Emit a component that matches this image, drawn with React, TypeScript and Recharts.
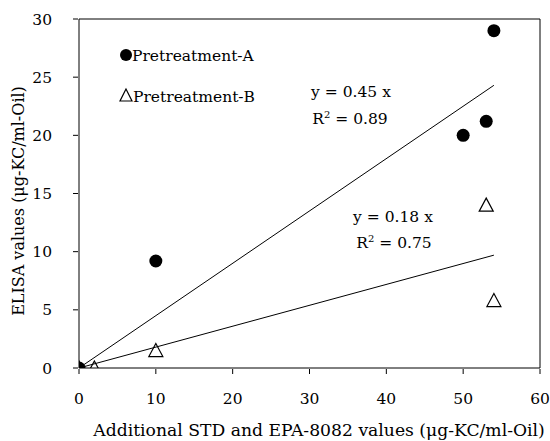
import {
  Customized,
  ReferenceLine,
  Scatter,
  ScatterChart,
  XAxis,
  YAxis,
} from 'recharts';

const xTicks = [0, 10, 20, 30, 40, 50, 60];
const yTicks = [0, 5, 10, 15, 20, 25, 30];

// Pretreatment-A (filled circles)
const seriesA = [
  { x: 0, y: 0 },
  { x: 10, y: 9.2 },
  { x: 50, y: 20 },
  { x: 53, y: 21.2 },
  { x: 54, y: 29 },
];

// Pretreatment-B (open triangles)
const seriesB = [
  { x: 0, y: 0 },
  { x: 2, y: 0 },
  { x: 10, y: 1.5 },
  { x: 53, y: 14 },
  { x: 54, y: 5.8 },
];

// linear fits through origin
const fitA = [
  { x: 0, y: 0 },
  { x: 54, y: 24.3 },
];
const fitB = [
  { x: 0, y: 0 },
  { x: 54, y: 9.7 },
];

const FONT = '"DejaVu Serif", serif';
const X_MARGIN = 10;
const Y_MARGIN = 21;
const TICK_LEN = 5;

// ticks point into the plot, like the original
const XTick = (props: any) => {
  const { x, y, payload } = props;
  const axisY = y - X_MARGIN;
  return (
    <g>
      <line x1={x} x2={x} y1={axisY} y2={axisY - TICK_LEN} stroke="#000" />
      <text
        x={x}
        y={y + 20}
        textAnchor="middle"
        fontFamily={FONT}
        fontSize={15.5}
        fill="#000"
      >
        {payload.value}
      </text>
    </g>
  );
};

const YTick = (props: any) => {
  const { x, y, payload } = props;
  const axisX = x + Y_MARGIN;
  return (
    <g>
      <line x1={axisX} x2={axisX + TICK_LEN} y1={y} y2={y} stroke="#000" />
      <text
        x={x}
        y={y + 5.5}
        textAnchor="end"
        fontFamily={FONT}
        fontSize={15.5}
        fill="#000"
      >
        {payload.value}
      </text>
    </g>
  );
};

const Triangle = (props: any) => {
  const { cx, cy } = props;
  if (cx == null || cy == null) return null;
  return (
    <polygon
      points={`${cx},${cy - 7} ${cx - 7},${cy + 6} ${cx + 7},${cy + 6}`}
      fill="none"
      stroke="#000"
      strokeWidth={1.2}
    />
  );
};

const Dot = (props: any) => {
  const { cx, cy } = props;
  if (cx == null || cy == null) return null;
  return <circle cx={cx} cy={cy} r={6.5} fill="#000" />;
};

const NoShape = () => null;

const Annotations = () => (
  <g fontFamily={FONT} fontSize={15.5} fill="#000">
    {/* legend */}
    <circle cx={126} cy={55} r={6} fill="#000" />
    <text x={132} y={61}>Pretreatment-A</text>
    <polygon points="126,89 120,101 132,101" fill="none" stroke="#000" strokeWidth={1.2} />
    <text x={133} y={102}>Pretreatment-B</text>
    {/* fit equations */}
    <text x={351} y={97} textAnchor="middle">y = 0.45 x</text>
    <text x={350} y={124} textAnchor="middle">
      R<tspan dy={-6} fontSize={10}>2</tspan>
      <tspan dy={6}> = 0.89</tspan>
    </text>
    <text x={393} y={222} textAnchor="middle">y = 0.18 x</text>
    <text x={394} y={248} textAnchor="middle">
      R<tspan dy={-6} fontSize={10}>2</tspan>
      <tspan dy={6}> = 0.75</tspan>
    </text>
    {/* axis titles */}
    <text x={319} y={436} textAnchor="middle" fontSize={17.2}>
      Additional STD and EPA-8082 values (μg-KC/ml-Oil)
    </text>
    <text
      x={24}
      y={201}
      textAnchor="middle"
      fontSize={16}
      transform="rotate(-90 24 201)"
    >
      ELISA values (μg-KC/ml-Oil)
    </text>
  </g>
);

export default function App() {
  return (
    <div style={{ position: 'absolute', left: 0, top: 0, background: '#fff' }}>
      <ScatterChart
        width={550}
        height={441}
        margin={{ top: 19, right: 10, bottom: 0, left: 0 }}
      >
        <XAxis
          type="number"
          dataKey="x"
          domain={[0, 60]}
          ticks={xTicks}
          interval={0}
          tickLine={false}
          tickMargin={X_MARGIN}
          height={73}
          stroke="#000"
          tick={XTick}
          allowDataOverflow
        />
        <YAxis
          type="number"
          dataKey="y"
          domain={[0, 30]}
          ticks={yTicks}
          interval={0}
          tickLine={false}
          tickMargin={Y_MARGIN}
          width={79}
          stroke="#000"
          tick={YTick}
          allowDataOverflow
        />
        <ReferenceLine y={30} stroke="#000" />
        <ReferenceLine x={60} stroke="#000" />
        <Scatter
          data={fitA}
          line={{ stroke: '#000', strokeWidth: 1 }}
          shape={NoShape}
          isAnimationActive={false}
        />
        <Scatter
          data={fitB}
          line={{ stroke: '#000', strokeWidth: 1 }}
          shape={NoShape}
          isAnimationActive={false}
        />
        <Scatter data={seriesB} shape={Triangle} isAnimationActive={false} />
        <Scatter data={seriesA} shape={Dot} isAnimationActive={false} />
        <Customized component={Annotations} />
      </ScatterChart>
    </div>
  );
}
